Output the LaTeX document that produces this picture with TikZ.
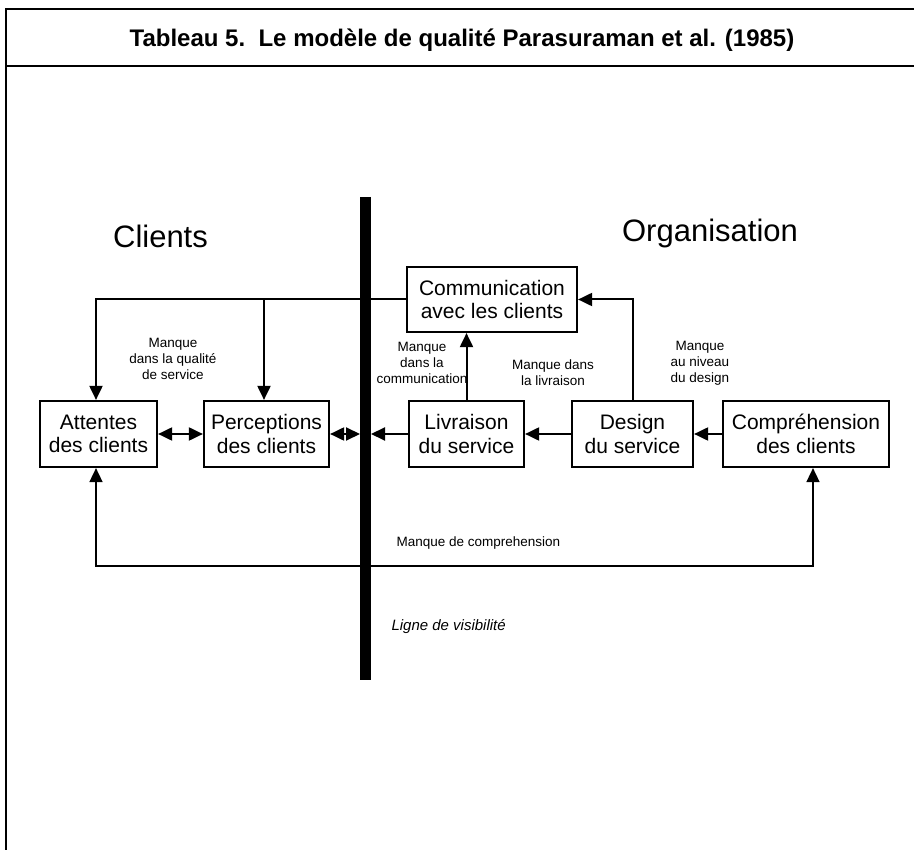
\documentclass[tikz,border=0pt]{standalone}
\usepackage{fontspec}
\setmainfont{Liberation Sans}
\usetikzlibrary{arrows.meta,calc}
\begin{document}
\begin{tikzpicture}[x=1pt,y=-1pt,
  box/.style={draw,line width=2.2pt,minimum height=66pt,inner sep=0pt,align=center,font=\fontsize{21}{23.5}\selectfont},
  lbl/.style={align=center,font=\fontsize{13.5}{16}\selectfont},
  conn/.style={line width=2pt,-{Triangle[length=14pt,width=13pt]}},
  dconn/.style={line width=2pt,{Triangle[length=14pt,width=13pt]}-{Triangle[length=14pt,width=13pt]}},
  frame/.style={line width=2.2pt}]
\useasboundingbox (0,0) rectangle (914,850);
% frame
\draw[frame] (920,9) -- (6,9) -- (6,870);
\draw[frame] (6,66) -- (920,66);
\node[anchor=base,font=\fontsize{24}{28}\selectfont\bfseries] (title) at (462,47) {Tableau 5.\ \ Le modèle de qualité Parasuraman et al. (1985)};
% headings
\node[anchor=base,font=\fontsize{31}{36}\selectfont] (clients) at (160.5,248) {Clients};
\node[anchor=base,font=\fontsize{31}{36}\selectfont] (org) at (710,242) {Organisation};
% boxes
\node[box,minimum width=117pt] (att) at (98.5,434) {Attentes\\des clients};
\node[box,minimum width=125pt] (perc) at (266.5,434) {Perceptions\\des clients};
\node[box,minimum width=115pt] (liv) at (466.5,434) {Livraison\\du service};
\node[box,minimum width=121pt] (des) at (632.5,434) {Design\\du service};
\node[box,minimum width=166pt] (comp) at (806,434) {Compréhension\\des clients};
\node[box,minimum width=170pt,minimum height=65pt] (comm) at (492,299.5) {Communication\\avec les clients};
% helper coordinates
\coordinate (attin) at (96,0);
\coordinate (percin) at (264,0);
\coordinate (compin) at (813,0);
\coordinate (low) at (0,566);
\coordinate (bartop) at (365.5,197);
\coordinate (barbot) at (365.5,680);
\coordinate (barL) at (360,434);
\coordinate (barR) at (371,434);
% connectors
\draw[conn] (comm.west) -| (att.north -| attin);
\draw[conn] (comm.west -| percin) -- (perc.north -| percin);
\draw[conn] (liv.north) -- (liv.north |- comm.south);
\draw[conn] (des.north) |- (comm.east);
\draw[conn] (comp.west) -- (des.east);
\draw[conn] (des.west) -- (liv.east);
\draw[conn] (liv.west) -- (barR);
\draw[dconn] (perc.east) -- (barL);
\draw[dconn] (att.east) -- (perc.west);
\draw[dconn,line width=1.6pt] (att.south -| attin) -- (attin |- low) -- (compin |- low) -- (comp.south -| compin);
% visibility line
\draw[line width=11pt] (bartop) -- (barbot);
% labels
\node[lbl] (q1) at (173,359) {Manque\\dans la qualité\\de service};
\node[lbl] (q2) at (422,363) {Manque\\dans la\\communication};
\node[lbl] (q3) at (553,373) {Manque dans\\la livraison};
\node[lbl] (q4) at (700,363) {Manque\\au niveau\\du design};
\node[lbl,anchor=west] (q5) at (393,543) {Manque de comprehension};
\node[anchor=west,font=\fontsize{15}{18}\selectfont\itshape] (vis) at (388,627) {Ligne de visibilité};
\end{tikzpicture}
\end{document}
